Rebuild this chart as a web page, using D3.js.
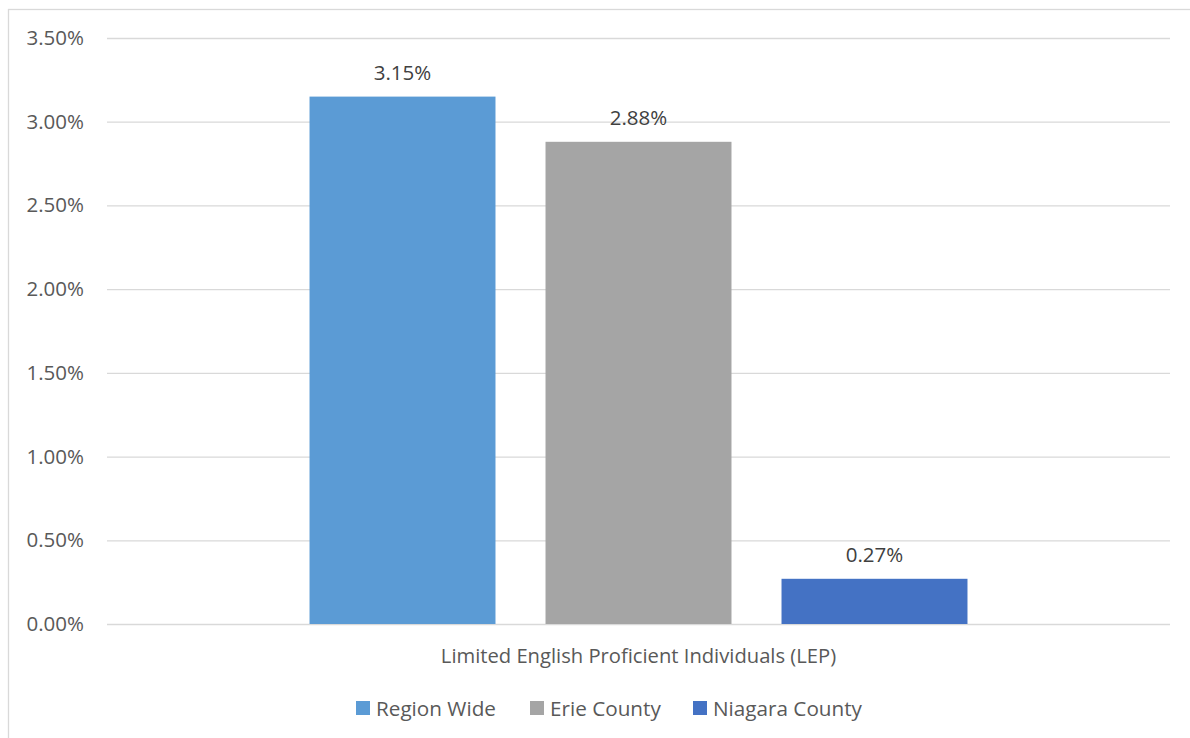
<!DOCTYPE html>
<html>
<head>
<meta charset="utf-8">
<script src="https://cdn.jsdelivr.net/npm/d3@7"></script>
<style>
  html, body { margin: 0; padding: 0; background: #ffffff; }
  svg { display: block; }
  text { font-family: "Open Sans", "Noto Sans", sans-serif; }
</style>
</head>
<body>
<svg id="chart" width="1190" height="738"></svg>
<script>
// Chart data
const categories = ["Limited English Proficient Individuals (LEP)"];
const seriesNames = ["Region Wide", "Erie County", "Niagara County"];
const seriesValues = [0.0315, 0.0288, 0.0027];
const seriesColors = ["#5B9BD5", "#A5A5A5", "#4472C4"];
const yTicks = [0, 0.005, 0.01, 0.015, 0.02, 0.025, 0.03, 0.035];

const W = 1190, H = 738;
const plot = { left: 107, right: 1170, top: 38, bottom: 624 };

const svg = d3.select("#chart");

// Chart area frame
svg.append("rect")
  .attr("x", 8.5).attr("y", 9.5)
  .attr("width", W + 10).attr("height", H + 10)
  .attr("fill", "#ffffff")
  .attr("stroke", "#D9D9D9").attr("stroke-width", 1.3);

const y = d3.scaleLinear().domain([0, 0.035]).range([plot.bottom, plot.top]);

const x0 = d3.scaleBand()
  .domain(categories)
  .range([plot.left, plot.right])
  .paddingInner(0)
  .paddingOuter(0.3078);

const x1 = d3.scaleBand()
  .domain(seriesNames)
  .range([0, x0.bandwidth()])
  .paddingInner(0.212)
  .paddingOuter(0);

// Gridlines and y labels
const yAxis = d3.axisLeft(y)
  .tickValues(yTicks)
  .tickFormat(d3.format(".2%"))
  .tickSize(-(plot.right - plot.left))
  .tickPadding(23);

const gy = svg.append("g")
  .attr("transform", `translate(${plot.left},0)`)
  .call(yAxis);
gy.select(".domain").remove();
gy.selectAll(".tick line")
  .attr("stroke", "#D9D9D9")
  .attr("stroke-width", 1.3);
gy.selectAll(".tick text")
  .attr("fill", "#595959")
  .style("font-size", "20.5px")
  .style("font-family", "'Open Sans', 'Noto Sans', sans-serif");

// Bars
const group = svg.append("g")
  .selectAll("g")
  .data(categories)
  .join("g")
  .attr("transform", d => `translate(${x0(d)},0)`);

const barData = seriesNames.map((name, i) => ({ name, value: seriesValues[i], color: seriesColors[i] }));

group.selectAll("rect")
  .data(barData)
  .join("rect")
  .attr("x", d => x1(d.name))
  .attr("y", d => y(d.value))
  .attr("width", x1.bandwidth())
  .attr("height", d => y(0) - y(d.value))
  .attr("fill", d => d.color);

// Value labels
group.selectAll("text.value")
  .data(barData)
  .join("text")
  .attr("class", "value")
  .attr("x", d => x1(d.name) + x1.bandwidth() / 2)
  .attr("y", d => y(d.value) - 17)
  .attr("text-anchor", "middle")
  .attr("fill", "#404040")
  .style("font-size", "20.5px")
  .text(d => d3.format(".2%")(d.value));

// Category label
svg.append("g")
  .selectAll("text")
  .data(categories)
  .join("text")
  .attr("x", d => x0(d) + x0.bandwidth() / 2)
  .attr("y", 663)
  .attr("text-anchor", "middle")
  .attr("fill", "#595959")
  .style("font-size", "20.2px")
  .text(d => d);

// Legend
const legendItems = [
  { name: seriesNames[0], color: seriesColors[0], x: 356 },
  { name: seriesNames[1], color: seriesColors[1], x: 530 },
  { name: seriesNames[2], color: seriesColors[2], x: 693 }
];
const legend = svg.append("g");
const li = legend.selectAll("g")
  .data(legendItems)
  .join("g")
  .attr("transform", d => `translate(${d.x},0)`);
li.append("rect")
  .attr("x", 0).attr("y", 701)
  .attr("width", 14).attr("height", 14)
  .attr("fill", d => d.color);
li.append("text")
  .attr("x", 20).attr("y", 716)
  .attr("fill", "#595959")
  .style("font-size", "20.7px")
  .text(d => d.name);
</script>
</body>
</html>
